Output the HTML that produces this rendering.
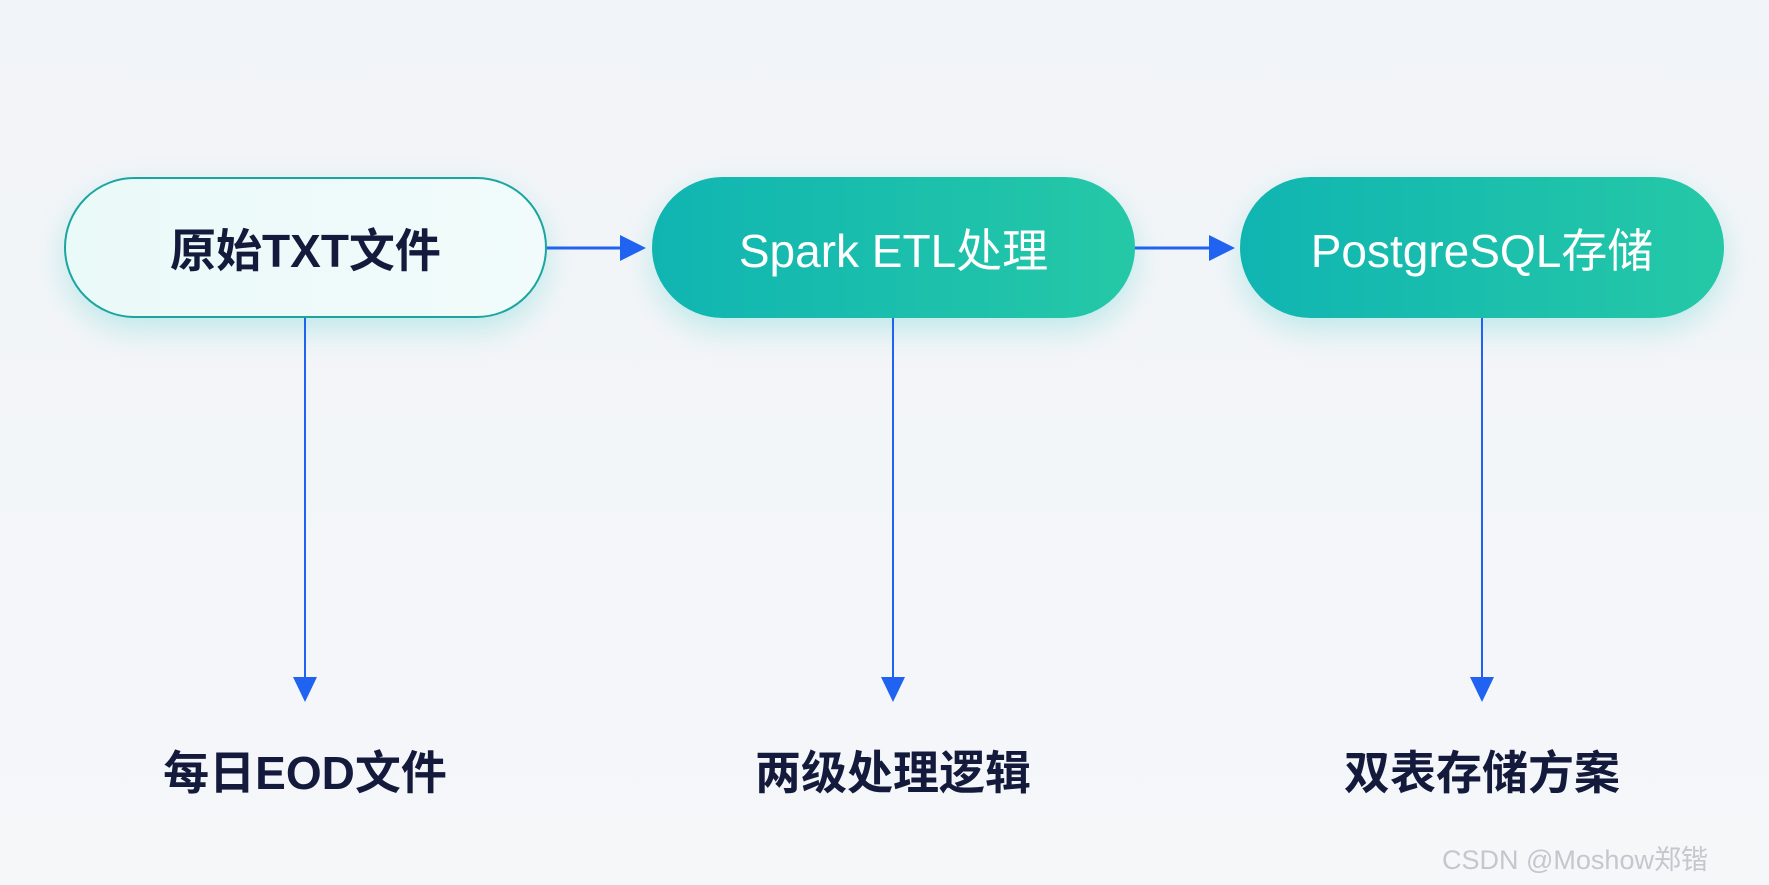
<!DOCTYPE html>
<html><head><meta charset="utf-8"><style>
body{margin:0;width:1769px;height:885px;background:linear-gradient(180deg,#f1f4f8,#f5f7f9);position:relative;overflow:hidden;font-family:"Liberation Sans","Noto Sans CJK SC",sans-serif}
.n{position:absolute;top:177px;height:141px;border-radius:71px;display:flex;align-items:center;justify-content:center;font-size:46px;box-sizing:border-box;box-shadow:0 12px 30px rgba(40,200,190,0.25)}
.g{background:linear-gradient(90deg,#10b5b2,#25c8a6);color:#fff}
.l{position:absolute;font-size:46px;font-weight:bold;color:#141a3c;width:400px;text-align:center;top:737px}
</style></head><body>
<div class="n" style="left:64px;width:483px;background:linear-gradient(90deg,#eafaf8,#f1fbfb);border:2px solid #1aa69f;color:#141a3c;font-weight:bold">原始TXT文件</div>
<div class="n g" style="left:652px;width:483px">Spark ETL处理</div>
<div class="n g" style="left:1240px;width:484px">PostgreSQL存储</div>
<svg width="1769" height="885" style="position:absolute;left:0;top:0">
<g stroke="#1f63f0" stroke-width="2" fill="#1f63f0">
<line x1="547" y1="248" x2="625" y2="248" stroke-width="3"/><polygon points="620,235 646,248 620,261" stroke="none"/>
<line x1="1135" y1="248" x2="1215" y2="248" stroke-width="3"/><polygon points="1209,235 1235,248 1209,261" stroke="none"/>
<line x1="305" y1="318" x2="305" y2="680"/><polygon points="293,677 317,677 305,702" stroke="none"/>
<line x1="893" y1="318" x2="893" y2="680"/><polygon points="881,677 905,677 893,702" stroke="none"/>
<line x1="1482" y1="318" x2="1482" y2="680"/><polygon points="1470,677 1494,677 1482,702" stroke="none"/>
</g></svg>
<div class="l" style="left:105px">每日EOD文件</div>
<div class="l" style="left:693px">两级处理逻辑</div>
<div class="l" style="left:1282px">双表存储方案</div>
<div style="position:absolute;left:1442px;top:838px;font-size:27px;color:#c4c7cc">CSDN @Moshow郑锴</div>
</body></html>
